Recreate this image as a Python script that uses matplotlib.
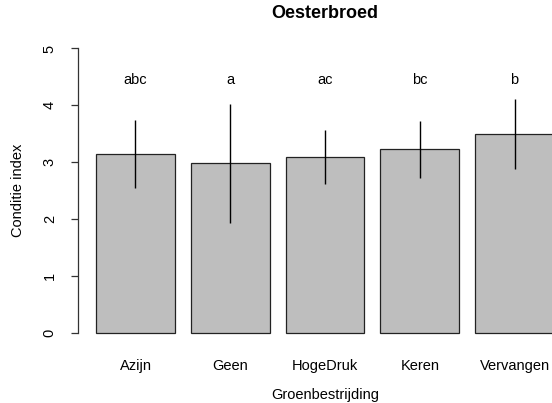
import matplotlib
matplotlib.use("Agg")
import matplotlib.pyplot as plt
import numpy as np

# Data
categories = ["Azijn", "Geen", "HogeDruk", "Keren", "Vervangen"]
means = [3.15, 2.98, 3.09, 3.23, 3.50]
sds = [0.60, 1.05, 0.47, 0.50, 0.62]
letters = ["abc", "a", "ac", "bc", "b"]
yticks = [0, 1, 2, 3, 4, 5]

plt.rcParams["font.family"] = ["Liberation Sans", "DejaVu Sans"]
FS = 10.5

fig = plt.figure(figsize=(5.52, 4.03), dpi=100)
# plot region extends past the right edge of the figure
ax = fig.add_axes([77.7 / 552, 1 - 344.1 / 403, (572.3 - 77.7) / 552, (344.1 - 37.1) / 403])

# bar layout: width 1, space 0.2
width = 1.0
space = 0.2
x = np.arange(len(categories)) * (width + space) + space + width / 2

ax.bar(x, means, width=width, color="#bebebe", edgecolor="#222222", linewidth=0.9, zorder=2)
ax.vlines(x, np.array(means) - np.array(sds), np.array(means) + np.array(sds),
          color="black", linewidth=1.0, zorder=3)

for xi, lab in zip(x, letters):
    ax.text(xi, 4.45, lab, ha="center", va="center", fontsize=FS)

xmin, xmax = space, x[-1] + width / 2
ext = 0.04 * (xmax - xmin)
ax.set_xlim(xmin - ext, xmax + ext)
ax.set_ylim(-0.2, 5.2)

for s in ["top", "right", "bottom"]:
    ax.spines[s].set_visible(False)
ax.spines["left"].set_bounds(0, 5)
ax.spines["left"].set_color("#333333")
ax.spines["left"].set_linewidth(0.9)

ax.set_yticks(yticks)
ax.set_yticklabels([str(t) for t in yticks], rotation=90, va="center", fontsize=FS)
ax.tick_params(axis="y", length=5, width=0.9, color="#333333", pad=10)

ax.set_xticks(x)
ax.set_xticklabels(categories, fontsize=FS)
ax.tick_params(axis="x", length=0, pad=11)

ax.patch.set_visible(False)

fig.text(18 / 552, 1 - 190 / 403, "Conditie index", rotation=90, ha="center", va="center", fontsize=FS)
fig.text(325 / 552, 1 - 395 / 403, "Groenbestrijding", ha="center", va="center", fontsize=FS)
fig.text(325 / 552, 1 - 13 / 403, "Oesterbroed", ha="center", va="center", fontsize=13, fontweight="bold")

fig.savefig("out.png", dpi=100)
